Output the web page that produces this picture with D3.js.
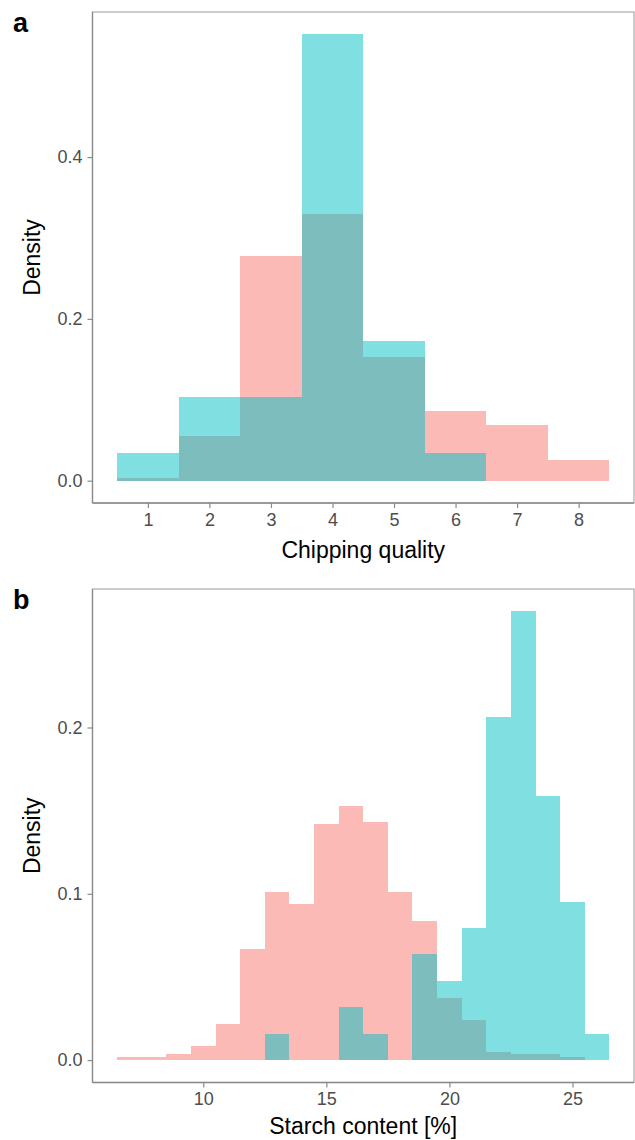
<!DOCTYPE html>
<meta charset="utf-8">
<html>
  <head>
    <style>
     body { margin: 0; background: #fff; }
     text { font-family: "Liberation Sans", Arial, sans-serif; }
     .tick text { font-size: 18px; fill: #4d4d4d; }
     .tick line { stroke: #8a8a8a; stroke-width: 1.2px; }
     text.axis-title { font-size: 23px; fill: #000; }
     text.panel-tag { font-size: 27px; font-weight: bold; fill: #000; }
     rect.border { fill: none; stroke: #ababab; stroke-width: 1.2px; }
     line.axis-line { stroke: #8a8a8a; stroke-width: 1.3px; }
    </style>
    <script src="https://d3js.org/d3.v7.min.js"></script>
  </head>
  <body>
    <div id="chart"></div>
    <script type="text/javascript">
     // panel a: chipping quality, bins of width 1 centred on integers
     var chipBins = [1, 2, 3, 4, 5, 6, 7, 8];
     var chipPink = [0.003, 0.055, 0.278, 0.329, 0.153, 0.086, 0.069, 0.026];
     var chipCyan = [0.0345, 0.1034, 0.1034, 0.5517, 0.1724, 0.0345, 0, 0];
     var chipTicks = [1, 2, 3, 4, 5, 6, 7, 8];
     var chipYTicks = [0, 0.2, 0.4];

     // panel b: starch content, bins of width 1 centred on integers
     var starchBins = [7, 8, 9, 10, 11, 12, 13, 14, 15, 16, 17, 18, 19, 20, 21, 22, 23, 24, 25, 26];
     var starchPink = [0.0018, 0.0018, 0.0036, 0.0085, 0.0215, 0.067, 0.101, 0.094, 0.142, 0.1527,
                       0.1431, 0.1008, 0.0837, 0.0375, 0.024, 0.005, 0.0036, 0.0036, 0.0016, 0];
     var starchCyan = [0, 0, 0, 0, 0, 0, 0.0159, 0, 0, 0.0317,
                       0.0159, 0, 0.0635, 0.0476, 0.0794, 0.2063, 0.2698, 0.1587, 0.0952, 0.0159];
     var starchTicks = [10, 15, 20, 25];
     var starchYTicks = [0, 0.1, 0.2];

     var pinkFill = "#F8766D", cyanFill = "#00BFC4";

     var svg = d3.select("#chart").append("svg")
                 .attr("width", 635)
                 .attr("height", 1140);

     function drawPanel(opt) {
       var left = 92.5, right = 634;
       var binW = 1;
       var xmin = d3.min(opt.bins) - binW / 2, xmax = d3.max(opt.bins) + binW / 2;
       var xpad = (xmax - xmin) * 0.05;
       var ymax = d3.max(opt.pink.concat(opt.cyan));
       var ypad = ymax * 0.05;

       var x = d3.scaleLinear().domain([xmin - xpad, xmax + xpad]).range([left, right]);
       var y = d3.scaleLinear().domain([-ypad, ymax + ypad]).range([opt.bottom, opt.top]);

       var g = svg.append("g");

       // pink group first, cyan drawn over it
       [[opt.pink, pinkFill], [opt.cyan, cyanFill]].forEach(function (s) {
         g.append("g").selectAll("rect")
          .data(opt.bins.map(function (b, i) { return { bin: b, value: s[0][i] }; })
                        .filter(function (d) { return d.value > 0; }))
          .enter().append("rect")
          .attr("x", function (d) { return x(d.bin - binW / 2); })
          .attr("width", function (d) { return x(d.bin + binW / 2) - x(d.bin - binW / 2); })
          .attr("y", function (d) { return y(d.value); })
          .attr("height", function (d) { return y(0) - y(d.value); })
          .attr("shape-rendering", "crispEdges")
          .style("fill", s[1])
          .style("fill-opacity", 0.5);
       });

       g.append("rect").attr("class", "border")
        .attr("x", left).attr("y", opt.top)
        .attr("width", right - left).attr("height", opt.bottom - opt.top);

       g.append("line").attr("class", "axis-line")
        .attr("x1", left).attr("x2", left).attr("y1", opt.top).attr("y2", opt.bottom);
       g.append("line").attr("class", "axis-line")
        .attr("x1", left).attr("x2", right).attr("y1", opt.bottom).attr("y2", opt.bottom);

       var xAxis = g.append("g")
                    .attr("transform", "translate(0," + opt.bottom + ")")
                    .call(d3.axisBottom(x).tickValues(opt.xTicks).tickSize(5).tickPadding(5)
                            .tickFormat(d3.format("d")));
       xAxis.select(".domain").remove();

       var yAxis = g.append("g")
                    .attr("transform", "translate(" + left + ",0)")
                    .call(d3.axisLeft(y).tickValues(opt.yTicks).tickSize(5).tickPadding(5)
                            .tickFormat(d3.format(".1f")));
       yAxis.select(".domain").remove();

       g.append("text").attr("class", "axis-title")
        .attr("x", (left + right) / 2).attr("y", opt.bottom + opt.titleOffset)
        .style("text-anchor", "middle")
        .text(opt.xTitle);

       g.append("text").attr("class", "axis-title")
        .attr("transform", "translate(40," + (opt.top + opt.bottom) / 2 + ") rotate(-90)")
        .style("text-anchor", "middle")
        .text("Density");

       g.append("text").attr("class", "panel-tag")
        .attr("x", 13).attr("y", opt.top + 20)
        .text(opt.tag);
     }

     drawPanel({ tag: "a", top: 12, bottom: 503, bins: chipBins, pink: chipPink, cyan: chipCyan,
                 xTicks: chipTicks, yTicks: chipYTicks, xTitle: "Chipping quality", titleOffset: 55 });
     drawPanel({ tag: "b", top: 589, bottom: 1082.5, bins: starchBins, pink: starchPink, cyan: starchCyan,
                 xTicks: starchTicks, yTicks: starchYTicks, xTitle: "Starch content [%]", titleOffset: 51 });
    </script>
  </body>
</html>
